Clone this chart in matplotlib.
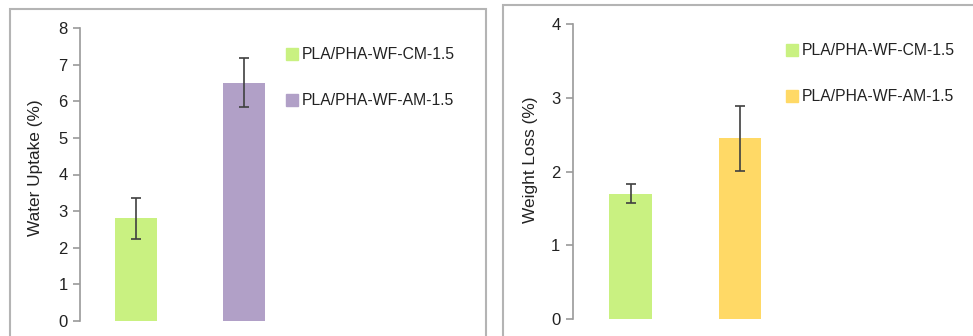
import matplotlib.pyplot as plt
from matplotlib.patches import Rectangle
from matplotlib.lines import Line2D

plt.rcParams['font.family'] = ['Liberation Sans', 'DejaVu Sans']

# sample names
samples = ['PLA/PHA-WF-CM-1.5', 'PLA/PHA-WF-AM-1.5']

# water uptake (%)
uptake = [2.8, 6.5]
uptake_err = [0.55, 0.67]

# weight loss (%)
loss = [1.7, 2.45]
loss_err = [0.13, 0.44]

green = '#c9f181'
purple = '#b1a0c7'
yellow = '#ffd966'
W, H = 973, 336

fig = plt.figure(figsize=(9.73, 3.36), dpi=100)

# chart area frames
for x0, y0, x1 in [(10, 9, 486), (503, 5, 990)]:
    fig.patches.append(Rectangle((x0 / W, -0.1), (x1 - x0) / W, (H - y0) / H + 0.1,
                                 transform=fig.transFigure, fill=False,
                                 edgecolor='#b4b4b4', lw=1.5))


def panel(left, bottom, top, c0, step, vals, errs, colors, ymax, ylabel, label_xy, leg_xy):
    width = W - 10 - left
    ax = fig.add_axes([left / W, (H - bottom) / H, width / W, (bottom - top) / H])
    x = [0, 1]
    ax.bar(x, vals, width=0.39, color=colors, yerr=errs,
           error_kw=dict(ecolor='#404040', elinewidth=1.2, capsize=3.5, capthick=1.2))
    ax.set_xlim(-c0 / step, (width - c0) / step)
    ax.set_ylim(0, ymax)
    ax.set_yticks(range(ymax + 1))
    for s in ['top', 'right', 'bottom']:
        ax.spines[s].set_visible(False)
    ax.spines['left'].set_color('#9a9a9a')
    ax.spines['left'].set_linewidth(1.2)
    ax.set_xticks([])
    ax.tick_params(axis='y', length=5, width=1.2, color='#9a9a9a', labelsize=12,
                   labelcolor='#222222', pad=4)
    ax.set_ylabel(ylabel, fontsize=12.4, color='#222222')
    ax.yaxis.set_label_coords((label_xy[0] - left) / width,
                              (bottom - label_xy[1]) / (bottom - top))
    ax.patch.set_visible(False)
    handles = [Line2D([], [], marker='s', ls='none', markersize=8, color=c) for c in colors]
    fig.legend(handles, samples, loc='upper left',
               bbox_to_anchor=(leg_xy[0] / W, (H - leg_xy[1]) / H),
               frameon=False, fontsize=11.3, handlelength=0.6, handletextpad=0.35,
               labelspacing=2.0, borderpad=0, borderaxespad=0, labelcolor='#222222')
    return ax


panel(80, 321, 28, 56, 108, uptake, uptake_err, [green, purple], 8,
      'Water Uptake (%)', (43, 168), (287, 47))
panel(573, 319.3, 24, 57.5, 109.5, loss, loss_err, [green, yellow], 4,
      'Weight Loss (%)', (538, 160), (787, 43))

fig.savefig('out.png', dpi=100)
